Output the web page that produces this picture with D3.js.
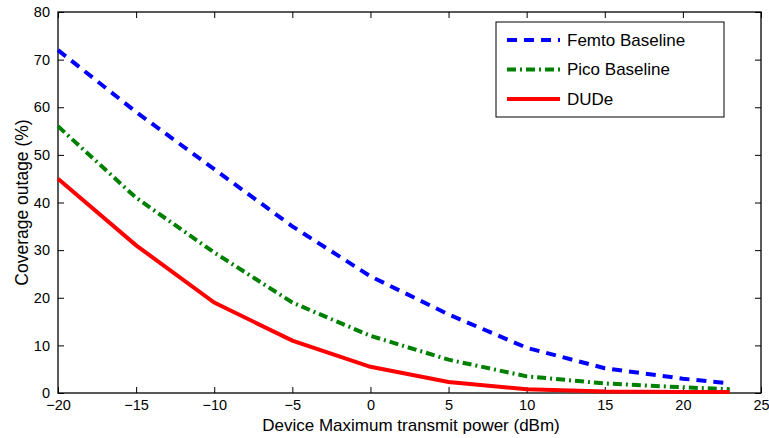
<!DOCTYPE html>
<html>
<head>
<meta charset="utf-8">
<script src="https://cdn.jsdelivr.net/npm/d3@7"></script>
<style>
  body { margin: 0; background: #fff; }
  svg { font-family: "Liberation Sans", Arial, sans-serif; }
</style>
</head>
<body>
<svg id="chart" width="769" height="438"></svg>
<script>
const powers = [-20, -15, -10, -5, 0, 5, 10, 15, 20, 23];
const femto = [72, 59, 47, 35, 24.5, 16.5, 9.5, 5.2, 3, 2];
const pico = [56, 41, 29.5, 19, 12, 7, 3.5, 2, 1.2, 0.8];
const dude = [45, 31, 19, 11, 5.5, 2.3, 0.8, 0.3, 0.2, 0.2];
const xTicks = [-20, -15, -10, -5, 0, 5, 10, 15, 20, 25];
const yTicks = [0, 10, 20, 30, 40, 50, 60, 70, 80];

const series = [
  { name: 'Femto Baseline', values: femto, color: '#0000ff', dash: '10 7' },
  { name: 'Pico Baseline', values: pico, color: '#008000', dash: '9 4 2 4' },
  { name: 'DUDe', values: dude, color: '#ff0000', dash: null },
];

const margin = { top: 12, right: 8, bottom: 45, left: 58 };
const width = 769, height = 438;
const innerWidth = width - margin.left - margin.right;
const innerHeight = height - margin.top - margin.bottom;

const svg = d3.select('#chart');
const root = svg.append('g').attr('transform', `translate(${margin.left}, ${margin.top})`);

const x = d3.scaleLinear().domain([-20, 25]).range([0, innerWidth]);
const y = d3.scaleLinear().domain([0, 80]).range([innerHeight, 0]);

const fmt = (v) => (v < 0 ? '\u2212' + Math.abs(v) : String(v));

function styleAxis(g) {
  g.selectAll('text').attr('fill', '#000').attr('font-size', 14.5);
  g.selectAll('line').attr('stroke', '#000').attr('stroke-width', 1);
  g.select('.domain').remove();
}

root.append('g')
  .attr('transform', `translate(0, ${innerHeight})`)
  .call(d3.axisBottom(x).tickValues(xTicks).tickSize(-6).tickPadding(7).tickFormat(fmt))
  .call(styleAxis);
root.append('g')
  .call(d3.axisTop(x).tickValues(xTicks).tickSize(-6))
  .call(styleAxis)
  .call((g) => g.selectAll('text').remove());
root.append('g')
  .call(d3.axisLeft(y).tickValues(yTicks).tickSize(-6).tickPadding(8))
  .call(styleAxis);
root.append('g')
  .attr('transform', `translate(${innerWidth}, 0)`)
  .call(d3.axisRight(y).tickValues(yTicks).tickSize(-6))
  .call(styleAxis)
  .call((g) => g.selectAll('text').remove());

root.append('rect')
  .attr('width', innerWidth).attr('height', innerHeight)
  .attr('fill', 'none').attr('stroke', '#000').attr('stroke-width', 1.3);

const line = d3.line()
  .x((d, i) => x(powers[i]))
  .y((d) => y(d));

series.forEach((s) => {
  root.append('path')
    .datum(s.values)
    .attr('fill', 'none')
    .attr('stroke', s.color)
    .attr('stroke-width', 4)
    .attr('stroke-dasharray', s.dash)
    .attr('d', line);
});

// legend
const legend = svg.append('g').attr('transform', 'translate(496, 22)');
legend.append('rect')
  .attr('width', 228).attr('height', 95)
  .attr('fill', '#fff').attr('stroke', '#000').attr('stroke-width', 1);
series.forEach((s, i) => {
  const yy = 18 + i * 29.5;
  legend.append('line')
    .attr('x1', 11).attr('x2', 64).attr('y1', yy).attr('y2', yy)
    .attr('stroke', s.color).attr('stroke-width', 4)
    .attr('stroke-dasharray', s.dash);
  legend.append('text')
    .attr('x', 71).attr('y', yy).attr('dy', '0.35em')
    .attr('font-size', 17).text(s.name);
});

svg.append('text')
  .attr('x', 411).attr('y', 431)
  .attr('text-anchor', 'middle').attr('font-size', 17)
  .text('Device Maximum transmit power (dBm)');
svg.append('text')
  .attr('transform', `translate(28, ${margin.top + innerHeight / 2}) rotate(-90)`)
  .attr('text-anchor', 'middle').attr('font-size', 17.5)
  .text('Coverage outage (%)');
</script>
</body>
</html>
